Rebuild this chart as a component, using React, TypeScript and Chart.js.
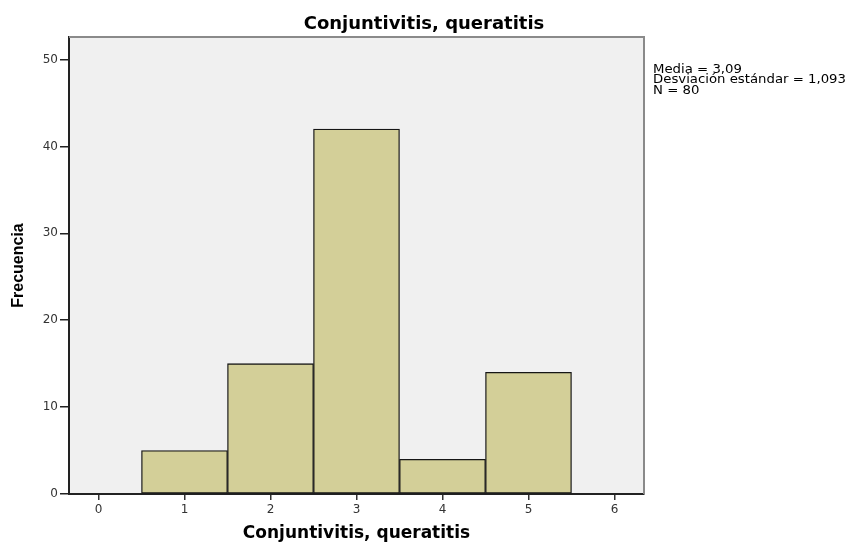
import React, { useEffect, useRef } from "react";
import { Chart, registerables } from "chart.js";

Chart.register(...registerables);

const chartTitle = "Conjuntivitis, queratitis";
const xAxisTitle = "Conjuntivitis, queratitis";
const yAxisTitle = "Frecuencia";
const categories = [1, 2, 3, 4, 5];
const frequencies = [5, 15, 42, 4, 14];
const xTicks = [0, 1, 2, 3, 4, 5, 6];
const yTicks = [0, 10, 20, 30, 40, 50];
const xRange = [-0.343, 6.343];
const yRange = [0, 52.6];
const statsLines = ["Media = 3,09", "Desviación estándar = 1,093", "N = 80"];

const W = 848;
const H = 544;

const decorPlugin = {
  id: "spssDecor",
  beforeDraw(chart: any) {
    const { ctx, chartArea } = chart;
    ctx.save();
    ctx.fillStyle = "#f0f0f0";
    ctx.fillRect(chartArea.left, chartArea.top, chartArea.right - chartArea.left, chartArea.bottom - chartArea.top);
    ctx.restore();
  },
  afterDraw(chart: any) {
    const { ctx, chartArea } = chart;
    ctx.save();
    // top and right frame
    ctx.strokeStyle = "#8a8a8a";
    ctx.lineWidth = 2;
    ctx.beginPath();
    ctx.moveTo(chartArea.left, chartArea.top);
    ctx.lineTo(chartArea.right, chartArea.top);
    ctx.lineTo(chartArea.right, chartArea.bottom);
    ctx.stroke();
    // title
    ctx.fillStyle = "#000";
    ctx.font = 'bold 18px "DejaVu Sans"';
    ctx.textAlign = "center";
    ctx.textBaseline = "alphabetic";
    ctx.fillText(chartTitle, W / 2, 29);
    // stats block
    ctx.font = '12px "DejaVu Sans"';
    ctx.textAlign = "left";
    let maxW = 0;
    statsLines.forEach((s) => {
      maxW = Math.max(maxW, ctx.measureText(s).width);
    });
    const sx = 193 / maxW;
    statsLines.forEach((s, i) => {
      ctx.save();
      ctx.translate(653, 72.5 + i * 10.8);
      ctx.scale(sx, 1);
      ctx.fillText(s, 0, 0);
      ctx.restore();
    });
    ctx.restore();
  },
};

export default function App() {
  const ref = useRef<HTMLCanvasElement | null>(null);
  useEffect(() => {
    if (!ref.current) return;
    const chart = new Chart(ref.current, {
      type: "bar",
      data: {
        datasets: [
          {
            data: categories.map((c, i) => ({ x: c, y: frequencies[i] })) as any,
            backgroundColor: "#d3cf98",
            borderColor: "#151515",
            borderWidth: 1.3,
            borderSkipped: false,
            barPercentage: 1,
            categoryPercentage: 1,
          },
        ],
      },
      options: {
        responsive: false,
        animation: false,
        layout: { padding: { top: 37, right: 204, left: 0, bottom: 0 } },
        plugins: {
          legend: { display: false },
          title: { display: false },
          tooltip: { enabled: false },
        },
        scales: {
          x: {
            type: "linear",
            min: xRange[0],
            max: xRange[1],
            offset: false,
            z: 1,
            afterBuildTicks: (s: any) => {
              s.ticks = xTicks.map((v) => ({ value: v }));
            },
            afterFit: (s: any) => {
              s.height = 50;
            },
            grid: {
              offset: false,
              drawOnChartArea: false,
              drawTicks: true,
              tickLength: 6,
              color: "#333",
              lineWidth: 1.5,
            },
            border: { display: true, color: "#222", width: 2 },
            ticks: {
              color: "#333",
              font: { family: "DejaVu Sans", size: 12 },
              padding: 3,
              maxRotation: 0,
              callback: (v: any) => String(v),
            },
            title: {
              display: true,
              text: xAxisTitle,
              color: "#000",
              font: { family: "DejaVu Sans", size: 17, weight: "bold" },
              padding: { top: 0, bottom: 0 },
            },
          },
          y: {
            type: "linear",
            min: yRange[0],
            max: yRange[1],
            z: 1,
            afterBuildTicks: (s: any) => {
              s.ticks = yTicks.map((v) => ({ value: v }));
            },
            afterFit: (s: any) => {
              s.width = 69;
            },
            grid: {
              drawOnChartArea: false,
              drawTicks: true,
              tickLength: 9,
              color: "#222",
              lineWidth: 1.5,
            },
            border: { display: true, color: "#222", width: 2 },
            ticks: {
              color: "#333",
              font: { family: "DejaVu Sans", size: 12 },
              padding: 2,
              callback: (v: any) => String(v),
            },
            title: {
              display: true,
              text: yAxisTitle,
              color: "#000",
              font: { family: "Liberation Sans", size: 16, weight: "bold" },
              padding: { top: 9, bottom: 0 },
            },
          },
        },
      },
      plugins: [decorPlugin],
    });
    return () => chart.destroy();
  }, []);
  return (
    <div style={{ position: "fixed", left: 0, top: 0, width: W, height: H, background: "#fff" }}>
      <canvas ref={ref} width={W} height={H} style={{ display: "block", width: W, height: H }} />
    </div>
  );
}
